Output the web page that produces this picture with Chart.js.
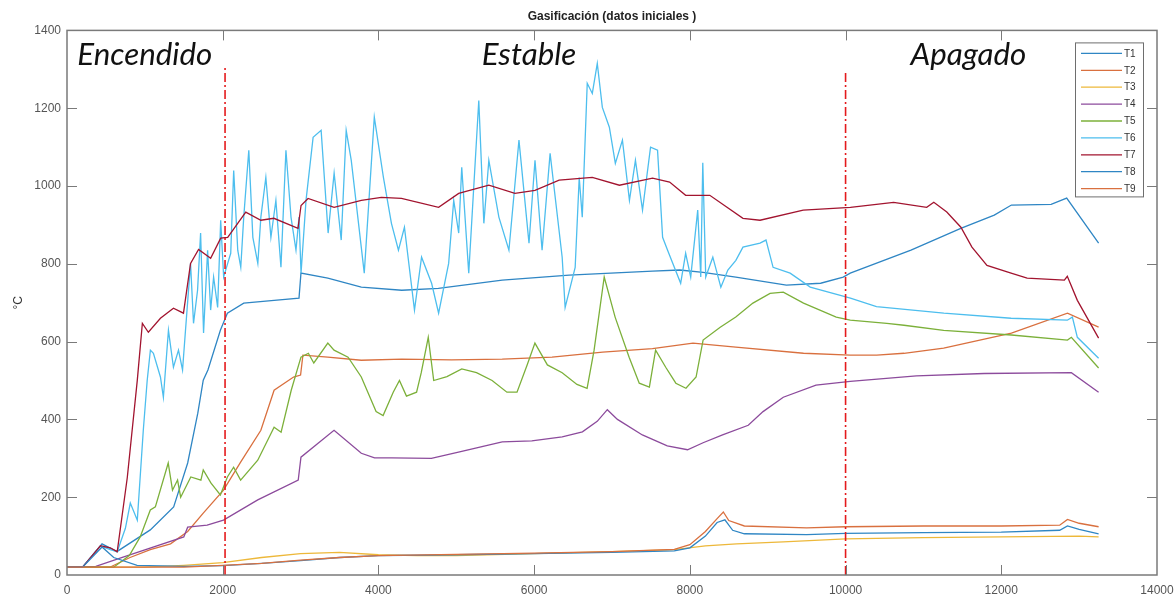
<!DOCTYPE html>
<html>
<head>
<meta charset="utf-8">
<script src="https://cdn.jsdelivr.net/npm/chart.js@4"></script>
<style>
  html, body { margin: 0; padding: 0; background: #fff; }
  canvas { display: block; }
</style>
</head>
<body>
<canvas id="gas-chart" width="1175" height="599"></canvas>
<script>
// time (s) / temperature (°C) pairs
const T1 = [[0,20],[200,20],[450,80],[640,60],[1070,116],[1370,175],[1550,288],[1680,416],[1750,501],[1810,527],[1970,629],[2060,673],[2270,699],[2660,706],[2980,712],[3005,776],[3350,763],[3780,740],[4300,732],[4770,737],[5590,758],[6450,771],[7520,781],[7870,784],[8170,778],[8590,766],[9240,745],[9680,750],[9970,766],[10060,776],[10840,835],[11480,891],[11910,925],[12130,951],[12640,953],[12840,969],[13250,853]];
const T2 = [[0,20],[550,20],[810,45],[1070,65],[1330,80],[1550,112],[1750,159],[2010,218],[2230,290],[2490,372],[2660,475],[2910,509],[3000,514],[3030,565],[3350,560],[3780,552],[4300,555],[4940,553],[5590,555],[6230,560],[6880,573],[7520,582],[8040,596],[8590,586],[9460,570],[10060,565],[10400,565],[10750,570],[11260,583],[12130,622],[12850,673],[13250,637]];
const T3 = [[0,20],[1000,20],[1500,25],[2000,32],[2500,45],[3000,55],[3500,58],[4000,52],[4500,50],[5000,50],[6000,55],[7000,60],[7800,65],[8200,75],[8600,80],[9200,85],[10000,93],[11000,96],[12000,98],[13000,100],[13250,98]];
const T4 = [[0,20],[370,22],[720,46],[1500,98],[1550,123],[1800,128],[2010,141],[2450,193],[2970,244],[3005,303],[3225,339],[3430,372],[3780,313],[3950,301],[4170,301],[4680,300],[5070,318],[5330,330],[5590,342],[5970,345],[6360,355],[6620,368],[6810,395],[6940,425],[7070,400],[7390,360],[7710,332],[7970,322],[8170,340],[8420,360],[8750,385],[8940,420],[9200,457],[9620,488],[10060,498],[10910,512],[11780,518],[12900,520],[13250,470]];
const T5 = [[0,20],[600,20],[800,50],[940,98],[1070,167],[1135,175],[1300,288],[1355,218],[1420,244],[1460,200],[1590,252],[1720,244],[1750,270],[1850,236],[1970,206],[2060,252],[2140,277],[2230,244],[2450,295],[2660,380],[2750,367],[2880,475],[3005,560],[3100,570],[3170,545],[3350,596],[3430,578],[3610,560],[3780,509],[3970,420],[4060,410],[4190,470],[4270,500],[4360,460],[4490,470],[4550,520],[4640,611],[4710,500],[4880,510],[5070,530],[5260,520],[5460,500],[5650,470],[5780,470],[5910,540],[6010,596],[6170,540],[6360,520],[6550,490],[6680,480],[6770,578],[6900,766],[7040,663],[7220,560],[7350,493],[7480,483],[7560,578],[7690,534],[7820,493],[7950,480],[8080,509],[8170,604],[8390,637],[8590,663],[8810,699],[9030,724],[9200,727],[9460,699],[9880,663],[10060,655],[10530,647],[10750,642],[11260,629],[12130,617],[12850,604],[12900,611],[13250,532]];
const T6 = [[0,20],[200,20],[430,75],[555,65],[645,60],[750,120],[813,185],[903,141],[980,372],[1030,500],[1071,578],[1110,570],[1200,509],[1238,457],[1303,629],[1367,534],[1432,578],[1484,527],[1522,629],[1587,801],[1625,647],[1677,732],[1716,879],[1754,622],[1806,835],[1845,681],[1883,766],[1935,688],[1974,912],[2012,766],[2064,801],[2103,827],[2141,1040],[2193,835],[2232,791],[2270,920],[2335,1092],[2387,868],[2451,801],[2490,920],[2554,1022],[2619,868],[2683,963],[2748,791],[2812,1092],[2877,920],[2941,835],[2980,920],[3006,776],[3070,963],[3161,1125],[3264,1143],[3354,879],[3431,1033],[3522,861],[3586,1143],[3651,1066],[3818,776],[3947,1177],[4064,1022],[4167,904],[4257,835],[4334,894],[4463,681],[4554,817],[4683,750],[4773,673],[4902,801],[4967,963],[5031,879],[5070,1048],[5160,776],[5289,1220],[5354,904],[5418,1066],[5547,920],[5676,835],[5805,1118],[5934,853],[6011,1066],[6102,835],[6205,1084],[6360,817],[6398,688],[6527,791],[6579,1022],[6618,920],[6682,1264],[6747,1238],[6811,1315],[6876,1202],[6966,1151],[7043,1058],[7134,1118],[7224,963],[7301,1066],[7392,938],[7495,1100],[7585,1092],[7650,868],[7714,835],[7882,750],[7946,827],[8011,766],[8101,938],[8140,766],[8166,1060],[8204,766],[8295,817],[8398,740],[8488,784],[8591,809],[8682,843],[8901,853],[8978,861],[9069,791],[9288,776],[9546,740],[10062,712],[10397,690],[11262,673],[12126,660],[12848,655],[12913,663],[12977,611],[13250,557]];
const T7 = [[0,20],[200,20],[430,75],[555,70],[645,60],[774,250],[903,501],[968,647],[1045,624],[1200,660],[1367,686],[1496,673],[1587,801],[1690,837],[1845,814],[1974,866],[2064,868],[2296,933],[2490,912],[2657,917],[2967,891],[3006,950],[3096,968],[3431,945],[3780,963],[4038,971],[4296,968],[4773,945],[5031,981],[5418,1002],[5753,981],[6011,989],[6321,1015],[6747,1022],[7095,1002],[7521,1020],[7740,1010],[7946,976],[8256,976],[8682,917],[8901,912],[9456,938],[10062,945],[10617,958],[11042,945],[11133,958],[11300,933],[11481,894],[11623,843],[11816,796],[12126,776],[12332,763],[12810,758],[12848,768],[12977,706],[13250,609]];
const T8 = [[0,20],[200,20],[450,72],[600,45],[900,25],[1500,22],[2000,24],[2500,30],[3000,37],[3500,45],[4000,50],[5000,52],[6000,55],[7000,58],[7800,62],[8000,70],[8200,100],[8350,135],[8450,142],[8550,115],[8700,106],[9500,104],[10000,107],[11000,109],[12000,110],[12750,115],[12850,126],[13000,117],[13250,106]];
const T9 = [[0,20],[1500,20],[2000,25],[2500,30],[3000,38],[3500,45],[4000,50],[5000,53],[6000,56],[7000,60],[7800,66],[8000,78],[8200,112],[8350,145],[8430,162],[8500,140],[8700,126],[9500,121],[10000,124],[11000,126],[12000,126],[12750,128],[12850,143],[13000,133],[13250,124]];

const names = ['T1', 'T2', 'T3', 'T4', 'T5', 'T6', 'T7', 'T8', 'T9'];
const series = [T1, T2, T3, T4, T5, T6, T7, T8, T9];
const colors = ['#2f86c4', '#d9703f', '#edb83a', '#8c4b9c', '#7cb03a', '#4dbeee', '#a2142f', '#2f86c4', '#d9703f'];

// phase boundaries (s) and how high the marker lines go (°C)
const phaseBounds = [2030, 10000];
const boundTops = [1310, 1292];
const phaseNames = ['Encendido', 'Estable', 'Apagado'];
const phaseCenters = [1000, 5934, 11578];

const xTicks = [0, 2000, 4000, 6000, 8000, 10000, 12000, 14000];
const yTicks = [0, 200, 400, 600, 800, 1000, 1200, 1400];

var datasets = series.map(function (s, i) {
    return {
        label: names[i],
        data: s.map(p => ({ x: p[0], y: p[1] })),
        borderColor: colors[i],
        borderWidth: 1.3,
        pointRadius: 0,
        tension: 0,
        fill: false,
        order: 20 - i
    };
});

phaseBounds.forEach(function (b, i) {
    datasets.push({
        label: '',
        data: [{ x: b, y: 0 }, { x: b, y: boundTops[i] }],
        borderColor: '#e41a1c',
        borderWidth: 1.6,
        borderDash: [9, 3, 2, 3],
        pointRadius: 0,
        fill: false,
        order: 0
    });
});

// matlab-like axes box, inward ticks, phase labels and legend
const decor = {
    id: 'decor',
    afterDraw(chart) {
        const ctx = chart.ctx;
        const a = chart.chartArea;
        const xs = chart.scales.x, ys = chart.scales.y;
        ctx.save();
        ctx.strokeStyle = '#7a7a7a';
        ctx.lineWidth = 1.5;
        ctx.strokeRect(a.left, a.top, a.right - a.left, a.bottom - a.top);
        ctx.lineWidth = 1;
        ctx.beginPath();
        xTicks.slice(1, -1).forEach(function (v) {
            const px = Math.round(xs.getPixelForValue(v)) + 0.5;
            ctx.moveTo(px, a.bottom); ctx.lineTo(px, a.bottom - 10);
            ctx.moveTo(px, a.top); ctx.lineTo(px, a.top + 10);
        });
        yTicks.slice(1, -1).forEach(function (v) {
            const py = Math.round(ys.getPixelForValue(v)) + 0.5;
            ctx.moveTo(a.left, py); ctx.lineTo(a.left + 10, py);
            ctx.moveTo(a.right, py); ctx.lineTo(a.right - 10, py);
        });
        ctx.stroke();

        // phase labels
        ctx.fillStyle = '#111';
        ctx.font = 'italic 28px Lato';
        const size = 28 * 135 / ctx.measureText(phaseNames[0]).width;
        ctx.font = 'italic ' + size.toFixed(1) + 'px Lato';
        ctx.textAlign = 'center';
        ctx.textBaseline = 'alphabetic';
        phaseNames.forEach(function (n, i) {
            ctx.fillText(n, xs.getPixelForValue(phaseCenters[i]), ys.getPixelForValue(1312));
        });

        // legend
        const lx = a.right - 82, ly = a.top + 12;
        ctx.fillStyle = '#fff';
        ctx.fillRect(lx, ly, 68, 154);
        ctx.strokeStyle = '#6e6e6e';
        ctx.lineWidth = 1;
        ctx.strokeRect(lx + 0.5, ly + 0.5, 68, 154);
        ctx.font = '10px "Liberation Sans", Arial';
        ctx.textAlign = 'left';
        ctx.textBaseline = 'middle';
        names.forEach(function (n, i) {
            const y = ly + 11 + i * 16.9;
            ctx.strokeStyle = chart.data.datasets[i].borderColor;
            ctx.lineWidth = 1.3;
            ctx.beginPath();
            ctx.moveTo(lx + 6, y); ctx.lineTo(lx + 47, y);
            ctx.stroke();
            ctx.fillStyle = '#333';
            ctx.fillText(n, lx + 49, y + 0.5);
        });
        ctx.restore();
    }
};

var canvas = document.getElementById('gas-chart');

var chart = new Chart(canvas, {
    type: 'line',
    data: { datasets: datasets },
    plugins: [decor],
    options: {
        responsive: false,
        animation: false,
        devicePixelRatio: 1,
        parsing: true,
        layout: { padding: 0 },
        plugins: {
            legend: { display: false },
            tooltip: { enabled: false },
            title: {
                display: true,
                fullSize: false,
                text: 'Gasificación (datos iniciales )',
                color: '#222',
                font: { family: '"Liberation Sans", Arial', size: 12, weight: 'bold' },
                padding: { top: 9, bottom: 7 }
            }
        },
        scales: {
            x: {
                type: 'linear',
                min: 0,
                max: 14000,
                afterBuildTicks: s => { s.ticks = xTicks.map(v => ({ value: v })); },
                afterFit: s => { s.height = 24; s.paddingRight = 18; },
                grid: { display: false, drawTicks: false },
                border: { display: false },
                ticks: {
                    color: '#555',
                    padding: 8,
                    maxRotation: 0,
                    autoSkip: false,
                    font: { family: '"Liberation Sans", Arial', size: 12 },
                    callback: v => String(v)
                }
            },
            y: {
                min: 0,
                max: 1400,
                afterBuildTicks: s => { s.ticks = yTicks.map(v => ({ value: v })); },
                afterFit: s => { s.width = 67; },
                grid: { display: false, drawTicks: false },
                border: { display: false },
                title: {
                    display: true,
                    text: '°C',
                    color: '#333',
                    font: { family: '"Liberation Sans", Arial', size: 12 },
                    padding: { top: 11, bottom: 0 }
                },
                ticks: {
                    color: '#555',
                    padding: 6,
                    autoSkip: false,
                    font: { family: '"Liberation Sans", Arial', size: 12 },
                    callback: v => String(v)
                }
            }
        }
    }
});
</script>
</body>
</html>
